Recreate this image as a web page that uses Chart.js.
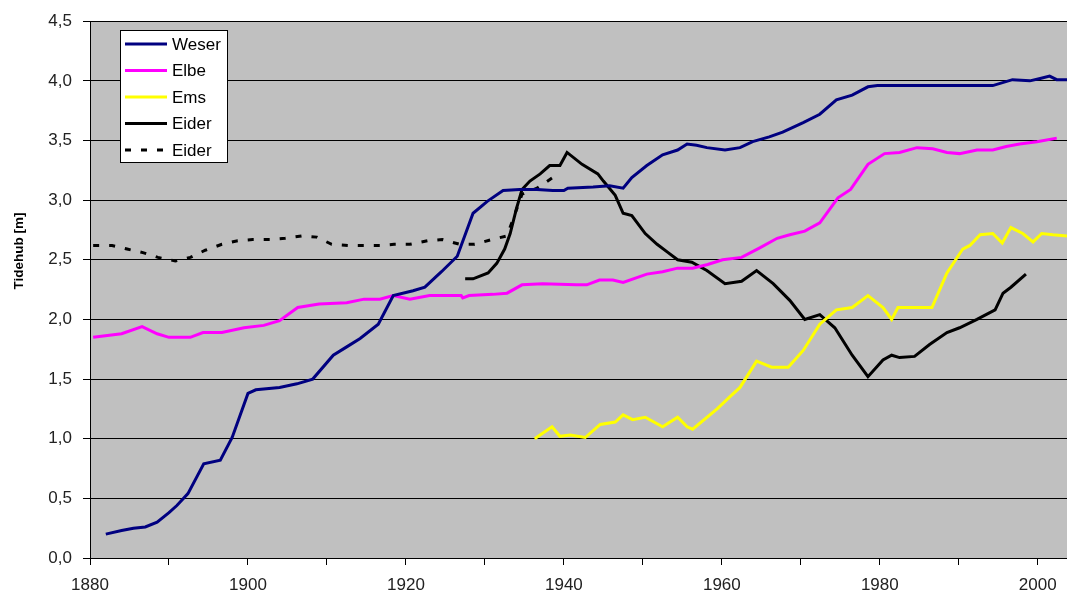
<!DOCTYPE html>
<html lang="de">
<head>
<meta charset="utf-8">
<title>Tidehub</title>
<script src="https://cdn.jsdelivr.net/npm/chart.js@4.4.1/dist/chart.umd.min.js"></script>
<style>
  html, body { margin: 0; padding: 0; background: #fff; }
  canvas { display: block; }
</style>
</head>
<body>
<canvas id="tideChart" width="1067" height="596"></canvas>
<script>
// ============================================================
// Tidehub an Weser, Elbe, Ems und Eider (1880 – 2003)
// ============================================================

// ── Daten ────────────────────────────────────────────────────

const weserYears = [1882, 1884, 1885.5, 1887, 1888.5, 1890, 1891, 1892.4, 1894.4, 1896.5, 1898, 1900, 1901, 1904, 1906.2, 1908.2, 1910.8, 1912.5, 1914.2, 1916.5, 1918.4, 1920.9, 1922.4, 1924.5, 1926.5, 1928.5, 1930.3, 1932.3, 1934.4, 1936.6, 1938.6, 1940, 1940.5, 1943.7, 1945.8, 1947.5, 1948.6, 1950.5, 1952.5, 1954.4, 1955.6, 1956.8, 1958.1, 1960.4, 1962.3, 1963.9, 1966, 1967.7, 1970.3, 1972.4, 1974.5, 1976.5, 1978.5, 1979.7, 1994.3, 1996.8, 1999, 2000.3, 2001.5, 2002.4, 2003.7];
const weserValues = [0.20, 0.23, 0.25, 0.26, 0.30, 0.38, 0.44, 0.54, 0.79, 0.82, 1.01, 1.38, 1.41, 1.43, 1.46, 1.50, 1.70, 1.77, 1.84, 1.96, 2.20, 2.24, 2.27, 2.40, 2.53, 2.89, 2.99, 3.08, 3.09, 3.09, 3.08, 3.08, 3.10, 3.11, 3.12, 3.10, 3.19, 3.29, 3.38, 3.42, 3.47, 3.46, 3.44, 3.42, 3.44, 3.49, 3.53, 3.57, 3.65, 3.72, 3.84, 3.88, 3.95, 3.96, 3.96, 4.01, 4.00, 4.02, 4.04, 4.01, 4.01];

const elbeYears = [1880.4, 1884, 1886.6, 1888.5, 1890, 1892.7, 1894.3, 1896.7, 1899.5, 1902, 1904, 1906.3, 1909, 1912.5, 1914.7, 1916.7, 1918.4, 1920.5, 1923, 1927, 1927.2, 1928, 1931, 1932.8, 1934.7, 1937.3, 1941.6, 1942.9, 1944.5, 1946.2, 1947.5, 1950.5, 1952.5, 1954.4, 1956.3, 1958.2, 1960.1, 1962.5, 1964.8, 1967, 1968.6, 1970.5, 1972.4, 1974.7, 1976.3, 1978.5, 1980.6, 1982.5, 1984.7, 1986.7, 1988.5, 1990.1, 1992.3, 1994.3, 1996, 1997.7, 1999.9, 2002.4];
const elbeValues = [1.85, 1.88, 1.94, 1.88, 1.85, 1.85, 1.89, 1.89, 1.93, 1.95, 1.99, 2.10, 2.13, 2.14, 2.17, 2.17, 2.20, 2.17, 2.20, 2.20, 2.18, 2.20, 2.21, 2.22, 2.29, 2.30, 2.29, 2.29, 2.33, 2.33, 2.31, 2.38, 2.40, 2.43, 2.43, 2.46, 2.50, 2.52, 2.60, 2.68, 2.71, 2.74, 2.81, 3.02, 3.09, 3.30, 3.39, 3.40, 3.44, 3.43, 3.40, 3.39, 3.42, 3.42, 3.45, 3.47, 3.49, 3.52];

const emsYears = [1936.3, 1938.5, 1939.5, 1940.8, 1942.7, 1944.6, 1946.5, 1947.5, 1948.7, 1950.3, 1952.5, 1954.4, 1955.6, 1956.3, 1959.4, 1961, 1962.3, 1964.4, 1966.3, 1968.4, 1970.3, 1972.4, 1974.5, 1976.5, 1978.5, 1980.4, 1981.5, 1982.3, 1986.6, 1988.5, 1990.5, 1991.4, 1992.7, 1994.3, 1995.5, 1996.6, 1998.1, 1999.4, 2000.5, 2001.9, 2003.7];
const emsValues = [1.00, 1.10, 1.02, 1.03, 1.01, 1.12, 1.14, 1.20, 1.16, 1.18, 1.10, 1.18, 1.10, 1.08, 1.25, 1.35, 1.43, 1.65, 1.60, 1.60, 1.74, 1.96, 2.08, 2.10, 2.20, 2.10, 2.00, 2.10, 2.10, 2.39, 2.59, 2.62, 2.71, 2.72, 2.64, 2.77, 2.72, 2.65, 2.72, 2.71, 2.70];

const eiderYears = [1927.5, 1928.5, 1930.4, 1931.5, 1932.5, 1933.2, 1934, 1934.7, 1935.7, 1937, 1938.2, 1939.5, 1940.4, 1942.3, 1944.3, 1945, 1946.5, 1947.5, 1948.6, 1950.3, 1951.8, 1953.2, 1954.4, 1956.2, 1958.1, 1960.4, 1962.5, 1964.4, 1966.5, 1968.6, 1970.5, 1972.4, 1974.3, 1976.5, 1978.5, 1980.4, 1981.5, 1982.5, 1984.4, 1986.3, 1988.5, 1990.1, 1992.3, 1994.6, 1995.6, 1996.6, 1998.5];
const eiderValues = [2.34, 2.34, 2.39, 2.47, 2.59, 2.72, 2.93, 3.09, 3.16, 3.22, 3.29, 3.29, 3.40, 3.30, 3.22, 3.16, 3.04, 2.89, 2.87, 2.72, 2.63, 2.56, 2.50, 2.48, 2.41, 2.30, 2.32, 2.41, 2.30, 2.16, 2.00, 2.04, 1.93, 1.70, 1.52, 1.66, 1.70, 1.68, 1.69, 1.79, 1.89, 1.93, 2.00, 2.08, 2.22, 2.27, 2.38];

// Eider, ältere Reihe (gestrichelt)
const eiderOldYears = [1880.4, 1882.8, 1884.7, 1886.7, 1888.6, 1890.8, 1892.7, 1894.6, 1896.7, 1898.7, 1900.6, 1902.8, 1904.7, 1906.8, 1908.7, 1910.6, 1912.7, 1914.6, 1916.7, 1918.5, 1920.5, 1922.8, 1924.6, 1926.8, 1928.7, 1930.9, 1932.8, 1934.7, 1936.6, 1938.6];
const eiderOldValues = [2.62, 2.62, 2.59, 2.56, 2.52, 2.49, 2.52, 2.58, 2.63, 2.66, 2.67, 2.67, 2.68, 2.70, 2.69, 2.63, 2.62, 2.62, 2.62, 2.63, 2.63, 2.66, 2.67, 2.63, 2.63, 2.67, 2.70, 3.05, 3.10, 3.19];

const yTicks = [0, 0.5, 1, 1.5, 2, 2.5, 3, 3.5, 4, 4.5];
const xLabelYears = [1880, 1900, 1920, 1940, 1960, 1980, 2000];

// ── Hilfsfunktionen ──────────────────────────────────────────

// Jahre + Werte → {x, y}
function toPoints(years, values) {
  return years.map((yr, i) => ({ x: yr, y: values[i] }));
}

// 2.5 → "2,5"
function fmtDe(v) {
  return v.toFixed(1).replace('.', ',');
}

const FONT = "'Liberation Sans', Arial, sans-serif";

// ── Plugins ──────────────────────────────────────────────────

// grauer Hintergrund im Plotbereich
const plotBg = {
  id: 'plotBg',
  beforeDraw(chart) {
    const { ctx, chartArea: a } = chart;
    ctx.save();
    ctx.fillStyle = '#c0c0c0';
    ctx.fillRect(a.left, a.top, a.right - a.left, a.bottom - a.top);
    ctx.restore();
  }
};

// Legende im Plotbereich (wie Excel) + Achsentitel
const boxLegend = {
  id: 'boxLegend',
  afterDraw(chart) {
    const ctx = chart.ctx;
    const sets = chart.data.datasets;
    const x0 = 120, y0 = 30, w = 107, h = 132;

    ctx.save();
    ctx.fillStyle = '#fff';
    ctx.fillRect(x0, y0, w, h);
    ctx.strokeStyle = '#000';
    ctx.lineWidth = 1;
    ctx.strokeRect(x0 + 0.5, y0 + 0.5, w, h);

    ctx.font = '17px ' + FONT;
    ctx.textBaseline = 'middle';
    sets.forEach((ds, i) => {
      const ly = y0 + 14 + i * 26.5;
      ctx.beginPath();
      ctx.setLineDash(ds.borderDash || []);
      ctx.strokeStyle = ds.borderColor;
      ctx.lineWidth = 3;
      ctx.moveTo(x0 + 5, ly);
      ctx.lineTo(x0 + 47, ly);
      ctx.stroke();
      ctx.setLineDash([]);
      ctx.fillStyle = '#000';
      ctx.fillText(ds.label, x0 + 52, ly + 1);
    });

    // y-Achsentitel
    ctx.translate(19, 251);
    ctx.rotate(-Math.PI / 2);
    ctx.font = 'bold 13.5px ' + FONT;
    ctx.textAlign = 'center';
    ctx.fillText('Tidehub [m]', 0, 0);
    ctx.restore();
  }
};

// ── Chart ────────────────────────────────────────────────────

const lineBase = {
  borderWidth: 3,
  pointRadius: 0,
  pointHoverRadius: 0,
  tension: 0,
  fill: false
};

new Chart(document.getElementById('tideChart'), {
  type: 'line',
  data: {
    datasets: [
      { ...lineBase, label: 'Weser', data: toPoints(weserYears, weserValues), borderColor: '#000080' },
      { ...lineBase, label: 'Elbe',  data: toPoints(elbeYears, elbeValues),   borderColor: '#ff00ff' },
      { ...lineBase, label: 'Ems',   data: toPoints(emsYears, emsValues),     borderColor: '#ffff00' },
      { ...lineBase, label: 'Eider', data: toPoints(eiderYears, eiderValues), borderColor: '#000000' },
      { ...lineBase, label: 'Eider', data: toPoints(eiderOldYears, eiderOldValues), borderColor: '#000000', borderDash: [6, 10] }
    ]
  },
  options: {
    responsive: false,
    animation: false,
    devicePixelRatio: 1,
    layout: { padding: { top: 20, right: 0, left: 0, bottom: 0 } },
    plugins: {
      legend: { display: false },
      tooltip: { enabled: false }
    },
    scales: {
      x: {
        type: 'linear',
        min: 1880,
        max: 2003.7,
        afterFit(s) { s.height = 38; },
        grid: { drawOnChartArea: false, color: '#000', tickLength: 7 },
        border: { color: '#000', width: 1 },
        ticks: {
          stepSize: 10,
          includeBounds: false,
          autoSkip: false,
          maxRotation: 0,
          padding: 10,
          color: '#222',
          font: { family: FONT, size: 17 },
          callback: v => xLabelYears.includes(v) ? String(v) : ''
        }
      },
      y: {
        min: 0,
        max: 4.5,
        afterFit(s) { s.width = 90; },
        afterBuildTicks(s) { s.ticks = yTicks.map(v => ({ value: v })); },
        grid: { color: '#000', lineWidth: 1, tickLength: 7 },
        border: { color: '#000', width: 1 },
        ticks: {
          padding: 11,
          color: '#222',
          font: { family: FONT, size: 17 },
          callback: v => fmtDe(v)
        }
      }
    }
  },
  plugins: [plotBg, boxLegend]
});
</script>
</body>
</html>
